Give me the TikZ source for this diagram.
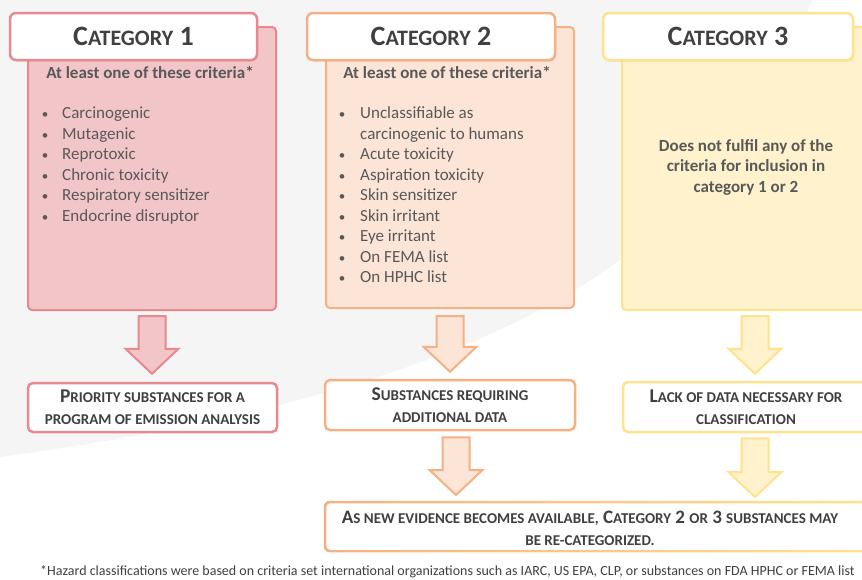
\documentclass[tikz,border=0pt]{standalone}
\usepackage{fontspec}
\setmainfont{Carlito}
\usetikzlibrary{calc,shadows}
\definecolor{cA}{HTML}{E8898F}
\definecolor{cAf}{HTML}{F2C5C8}
\definecolor{cB}{HTML}{F4B183}
\definecolor{cBf}{HTML}{FCE4D6}
\definecolor{cC}{HTML}{FFE38C}
\definecolor{cCf}{HTML}{FFF2CC}
\definecolor{txt}{HTML}{595959}
\definecolor{dtxt}{HTML}{404040}
\definecolor{bgg}{HTML}{F5F5F5}
\newcommand\smc[1]{{\fontsize{15}{22}\selectfont #1}}
\newcommand\hsc[1]{{\fontsize{22}{30}\selectfont #1}}
\newcommand\blockarrow[4]{%
  \draw[draw=#3, fill=#4, line width=2pt, line join=miter]
    let \p1=(#1), \p2=(#2) in
    (\x1-13.5pt,\y1) -- (\x1+13.5pt,\y1) -- (\x1+13.5pt,\y2+25pt)
    -- (\x1+26.5pt,\y2+25pt) -- (\x1,\y2) -- (\x1-26.5pt,\y2+25pt)
    -- (\x1-13.5pt,\y2+25pt) -- cycle;}
\begin{document}
\begin{tikzpicture}[x=1pt,y=-1pt,
  bodybox/.style={rounded corners=4pt, line width=2pt, inner sep=0, minimum width=248, minimum height=283},
  headbox/.style={rounded corners=6pt, line width=2.5pt, fill=white, minimum width=248, minimum height=47, inner sep=0,
    font=\fontsize{28}{30}\selectfont\bfseries, text=dtxt,
    drop shadow={opacity=0.18, shadow xshift=1pt, shadow yshift=-1.5pt}},
  resbox/.style={rounded corners=5pt, line width=2.5pt, fill=white, minimum height=49, inner sep=0,
    align=center, font=\fontsize{19.5}{22}\selectfont\bfseries, text=dtxt},
  crit/.style={anchor=base, font=\fontsize{17}{18}\selectfont\bfseries, text=txt, inner sep=0},
  item/.style={anchor=base west, font=\fontsize{17}{18}\selectfont, text=txt, inner sep=0},
  bul/.style={anchor=base, font=\fontsize{13}{18}\selectfont, text=txt, inner sep=0},
]
\useasboundingbox (0,0) rectangle (862,579);
\clip (0,0) rectangle (862,579);
\fill[white] (0,0) rectangle (862,579);
\fill[bgg] (0,0) -- (812,0) .. controls (720,230) and (560,380) .. (0,457) -- cycle;

% body boxes
\node[bodybox, draw=cA, fill=cAf] (b1) at (152,168.5) {};
\node[bodybox, draw=cB, fill=cBf, minimum height=281] (b2) at (450,167.5) {};
\node[bodybox, draw=cC, fill=cCf] (b3) at (746,168.5) {};

% headers
\node[headbox, draw=cA, minimum width=247] (h1) at (133.5,36.5) {C\hsc{ATEGORY} 1};
\node[headbox, draw=cB] (h2) at (431,36.5) {C\hsc{ATEGORY} 2};
\node[headbox, draw=cC, minimum width=250] (h3) at (728,36.5) {C\hsc{ATEGORY} 3};

% category 1 contents
\node[crit] (c1t) at (150,78) {At least one of these criteria*};
\foreach \t [count=\i] in {Carcinogenic,Mutagenic,Reprotoxic,Chronic toxicity,Respiratory sensitizer,Endocrine disruptor}{
  \node[bul] (c1b\i) at (45,{118.5+20.5*(\i-1)}) {•};
  \node[item] (c1i\i) at (62,{118.5+20.5*(\i-1)}) {\t};
}

% category 2 contents
\node[crit] (c2t) at (447,78) {At least one of these criteria*};
\node[bul] (c2b1) at (342,118.5) {•};
\node[item] (c2i1) at (360,118.5) {Unclassifiable as};
\node[item] (c2i1b) at (360,139) {carcinogenic to humans};
\foreach \t [count=\i from 2] in {Acute toxicity,Aspiration toxicity,Skin sensitizer,Skin irritant,Eye irritant,On FEMA list,On HPHC list}{
  \node[bul] (c2b\i) at (342,{118.5+20.5*\i}) {•};
  \node[item] (c2i\i) at (360,{118.5+20.5*\i}) {\t};
}

% category 3 contents
\node[align=center, font=\fontsize{17}{20.5}\selectfont\bfseries, text=txt] (c3t) at (746,167)
  {Does not fulfil any of the\\criteria for inclusion in\\category 1 or 2};

% result boxes
\node[resbox, draw=cA, minimum width=249] (r1) at (152.5,407.5) {P\smc{RIORITY SUBSTANCES FOR A}\\\smc{PROGRAM OF EMISSION ANALYSIS}};
\node[resbox, draw=cB, minimum width=250, minimum height=50] (r2) at (450,405) {S\smc{UBSTANCES REQUIRING}\\\smc{ADDITIONAL DATA}};
\node[resbox, draw=cC, minimum width=246, minimum height=50] (r3) at (746,407) {L\smc{ACK OF DATA NECESSARY FOR}\\\smc{CLASSIFICATION}};

% final box with gradient border
\path[rounded corners=6pt, left color=cB, right color=cC] (323.75,500.75) rectangle (872,552.25);
\path[rounded corners=4pt, fill=white] (326.25,503.25) rectangle (869.5,549.75);
\coordinate (fbtop) at (590,501);
\node[align=center, font=\fontsize{19}{22}\selectfont\bfseries, text=dtxt, inner sep=0] (fb) at (590,528.5)
  {A\smc{S NEW EVIDENCE BECOMES AVAILABLE,} C\smc{ATEGORY} 2 \smc{OR} 3 \smc{SUBSTANCES MAY}\\\smc{BE RE-CATEGORIZED.}};

% block arrows
\coordinate (a1t) at ($(b1.south)+(0,5)$);
\coordinate (a1b) at ($(r1.north)+(0,-8)$);
\blockarrow{a1t}{a1b}{cA}{cAf}
\coordinate (a2t) at ($(b2.south)+(0,7)$);
\coordinate (a2b) at ($(r2.north)+(0,-7)$);
\blockarrow{a2t}{a2b}{cB}{cBf}
\coordinate (a3t) at ($(r2.south)+(6,6)$);
\coordinate (a3b) at (fbtop -| a3t);
\coordinate (a3c) at ($(a3b)+(0,-6)$);
\blockarrow{a3t}{a3c}{cB}{cBf}
\coordinate (a4t) at ($(b3.south)+(9,5)$);
\coordinate (a4b) at ($(r3.north)+(9,-7)$);
\blockarrow{a4t}{a4b}{cC}{cCf}
\coordinate (a5t) at ($(r3.south)+(9,5)$);
\coordinate (a5b) at ($(fbtop -| a5t)+(0,-4)$);
\blockarrow{a5t}{a5b}{cC}{cCf}

% footnote
\node[anchor=base west, font=\fontsize{14}{15}\selectfont, text=dtxt, inner sep=0] (fn) at (40,575)
  {*Hazard classifications were based on criteria set international organizations such as IARC, US EPA, CLP, or substances on FDA HPHC or FEMA list};
\end{tikzpicture}
\end{document}
